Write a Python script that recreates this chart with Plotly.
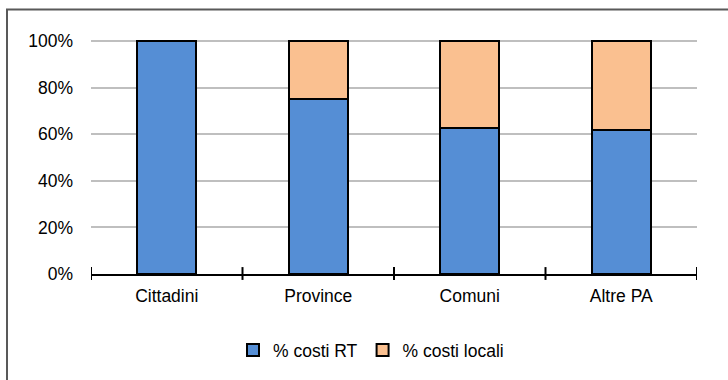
import plotly.graph_objects as go

categories = ["Cittadini", "Province", "Comuni", "Altre PA"]
costi_rt = [100, 75, 62.5, 62]
costi_locali = [0, 25, 37.5, 38]
series_names = ["% costi RT", "% costi locali"]
y_ticks = [0, 20, 40, 60, 80, 100]
y_tick_labels = ["0%", "20%", "40%", "60%", "80%", "100%"]

W, H = 728, 380
L, R, T, B = 91, 31, 39, 103
PW, PH = W - L - R, H - T - B
ZERO_PX = 277  # pixel row of 0%


def px_x(px):
    return (px - L) / PW


def px_y(py):
    return (H - B - py) / PH


ymax = 100 * PH / (ZERO_PX - 41)

fig = go.Figure()
fig.add_trace(go.Bar(
    x=categories, y=costi_rt, name=series_names[0],
    marker=dict(color="#558ED5", line=dict(color="black", width=2)),
    width=0.39,
))
fig.add_trace(go.Bar(
    x=categories, y=costi_locali, name=series_names[1],
    marker=dict(color="#FAC090", line=dict(color="black", width=2)),
    width=0.39,
))

shapes = []
# cross tick marks on category boundaries
for i in range(len(categories) + 1):
    shapes.append(dict(type="line", xref="x", yref="paper",
                       x0=i - 0.5, x1=i - 0.5, y0=px_y(283), y1=px_y(270),
                       line=dict(color="black", width=2)))
# outer chart border
shapes.append(dict(type="rect", xref="paper", yref="paper",
                   x0=px_x(7), x1=px_x(760), y0=px_y(420), y1=px_y(9),
                   line=dict(color="#595959", width=2), layer="above"))

fig.update_layout(
    width=W, height=H,
    margin=dict(l=L, r=R, t=T, b=B, pad=0),
    barmode="stack",
    bargap=0.6,
    paper_bgcolor="white", plot_bgcolor="white",
    font=dict(family="Liberation Sans, Arial, sans-serif", size=17.5, color="black"),
    xaxis=dict(type="category", range=[-0.5, len(categories) - 0.5],
               showline=True, linecolor="black", linewidth=2,
               showgrid=False, ticks="", ticklabelstandoff=5),
    yaxis=dict(range=[0, ymax], tickmode="array", tickvals=y_ticks,
               ticktext=y_tick_labels,
               showgrid=True, gridcolor="#BFBFBF", gridwidth=1.5,
               zeroline=False, showline=False, ticks="", ticklabelstandoff=17),
    legend=dict(orientation="h", x=px_x(233), xanchor="left",
                y=px_y(354), yanchor="middle", traceorder="normal",
                font=dict(size=17.5), itemwidth=30, bgcolor="rgba(0,0,0,0)"),
    shapes=shapes,
)

fig.write_html("out.html")
